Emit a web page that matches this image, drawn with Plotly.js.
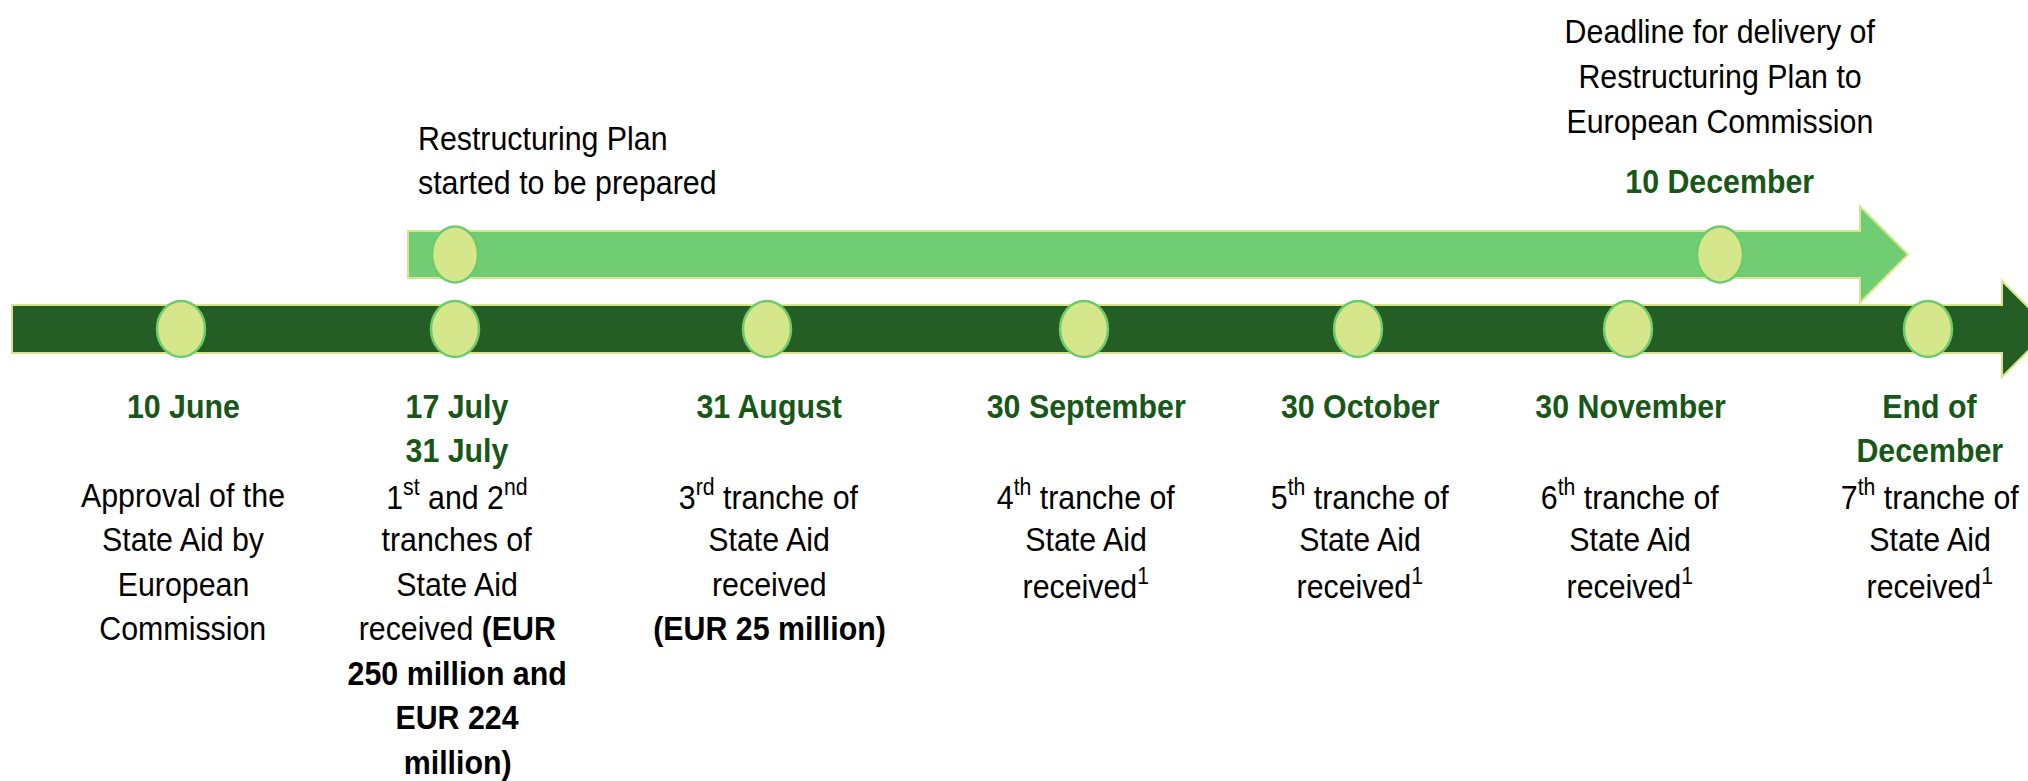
<!DOCTYPE html>
<html><head><meta charset="utf-8">
<script src="https://cdn.plot.ly/plotly-3.0.1.min.js"></script>
<style>html,body{margin:0;padding:0;background:#fff;overflow:hidden}#chart{width:2028px;height:781px}</style>
</head><body><div id="chart"></div>
<script>
// ---- data ----
const milestoneX = [181, 455, 767, 1084, 1358, 1628, 1928];
const dateLabels = [
  ["10 June"],
  ["17 July", "31 July"],
  ["31 August"],
  ["30 September"],
  ["30 October"],
  ["30 November"],
  ["End of", "December"]
];
const descriptions = [
  ["Approval of the", "State Aid by", "European", "Commission"],
  ["1<sup>st</sup> and 2<sup>nd</sup>", "tranches of", "State Aid", "received <b>(EUR</b>", "<b>250 million and</b>", "<b>EUR 224</b>", "<b>million)</b>"],
  ["3<sup>rd</sup> tranche of", "State Aid", "received", "<b>(EUR 25 million)</b>"],
  ["4<sup>th</sup> tranche of", "State Aid", "received<sup>1</sup>"],
  ["5<sup>th</sup> tranche of", "State Aid", "received<sup>1</sup>"],
  ["6<sup>th</sup> tranche of", "State Aid", "received<sup>1</sup>"],
  ["7<sup>th</sup> tranche of", "State Aid", "received<sup>1</sup>"]
];
const planX = [455, 1720];
const planStartText = ["Restructuring Plan", "started to be prepared"];
const planDeadlineText = ["Deadline for delivery of", "Restructuring Plan to", "European Commission"];
const planDeadlineDate = "10 December";

// ---- styles ----
const FONT = '"Liberation Sans Narrow", "Arial Narrow", "Liberation Sans", Arial, sans-serif';
const DARK = '#245E24', LIGHT = '#71CD73', DOT = '#D6E68A', DOTLINE = '#6DCB6E', EDGE = '#D5E58A', GREEN_TXT = '#175717';
const FS = 33, SQUEEZE = 0.92;

const shapes = [];
// main timeline arrow (dark)
const mainY = 329, mainH = 24, mainHead = 48, mainLeft = 12, mainHeadBase = 2002;
shapes.push({type:'path', xref:'x', yref:'y',
  path:`M ${mainLeft} ${mainY-mainH} L ${mainHeadBase} ${mainY-mainH} L ${mainHeadBase} ${mainY-mainHead} L ${mainHeadBase+mainHead} ${mainY} L ${mainHeadBase} ${mainY+mainHead} L ${mainHeadBase} ${mainY+mainH} L ${mainLeft} ${mainY+mainH} Z`,
  fillcolor: DARK, line:{color:EDGE, width:2}, layer:'below'});
// plan arrow (light)
const planY = 254.5, planH = 23.5, planHead = 48, planStartLeft = 408, planHeadBase = 1860;
shapes.push({type:'path', xref:'x', yref:'y',
  path:`M ${planStartLeft} ${planY-planH} L ${planHeadBase} ${planY-planH} L ${planHeadBase} ${planY-planHead} L ${planHeadBase+planHead} ${planY} L ${planHeadBase} ${planY+planHead} L ${planHeadBase} ${planY+planH} L ${planStartLeft} ${planY+planH} Z`,
  fillcolor: LIGHT, line:{color:EDGE, width:2}, layer:'below'});
// milestone dots
milestoneX.forEach(x => shapes.push({type:'circle', xref:'x', yref:'y', x0:x-24, x1:x+24, y0:mainY-28, y1:mainY+28,
  fillcolor:DOT, line:{color:DOTLINE, width:2.5}}));
planX.forEach(x => shapes.push({type:'circle', xref:'x', yref:'y', x0:x-23, x1:x+23, y0:planY-28, y1:planY+28,
  fillcolor:DOT, line:{color:DOTLINE, width:2.5}}));

const annotations = [];
function addText(text, x, y, opts) {
  annotations.push(Object.assign({text, x, y, xref:'x', yref:'y', showarrow:false,
    xanchor:'center', yanchor:'middle', align:'center', font:{family:FONT, size:FS, color:'#000'}}, opts||{}));
}
const boldGreen = {font:{family:FONT, size:FS, color:GREEN_TXT, weight:'bold'}};
const rowY0 = 406, rowStep = 44.5;
milestoneX.forEach((x, i) => {
  dateLabels[i].forEach((t, j) => addText(t, x+2, rowY0 + rowStep*j, boldGreen));
  descriptions[i].forEach((t, j) => addText(t, x+2, rowY0 + rowStep*(j+2)));
});
planStartText.forEach((t, j) => addText(t, 416, 138 + 44*j, {xanchor:'left', align:'left'}));
planDeadlineText.forEach((t, j) => addText(t, planX[1], 31 + 45*j));
addText(planDeadlineDate, planX[1], 181, boldGreen);

const layout = {
  width:2028, height:781, margin:{l:0,r:0,t:0,b:0},
  paper_bgcolor:'#fff', plot_bgcolor:'#fff', showlegend:false,
  xaxis:{range:[0,2028], visible:false, fixedrange:true},
  yaxis:{range:[781,0], visible:false, fixedrange:true},
  shapes, annotations
};
const data = [{type:'scatter', mode:'markers', x:milestoneX, y:milestoneX.map(()=>mainY), marker:{opacity:0}, hoverinfo:'skip'}];
Plotly.newPlot('chart', data, layout, {staticPlot:true, displayModeBar:false}).then(gd => {
  // emulate the narrow typeface of the original by condensing each label horizontally
  gd.querySelectorAll('g.annotation').forEach(g => {
    const idx = +g.getAttribute('data-index');
    const ann = annotations[idx] || {};
    g.querySelectorAll('text.annotation-text').forEach(t => {
      t.style.transformBox = 'fill-box';
      t.style.transformOrigin = ann.xanchor === 'left' ? '0% 50%' : '50% 50%';
      t.style.transform = 'scaleX(' + SQUEEZE + ')';
    });
  });
});
</script></body></html>
